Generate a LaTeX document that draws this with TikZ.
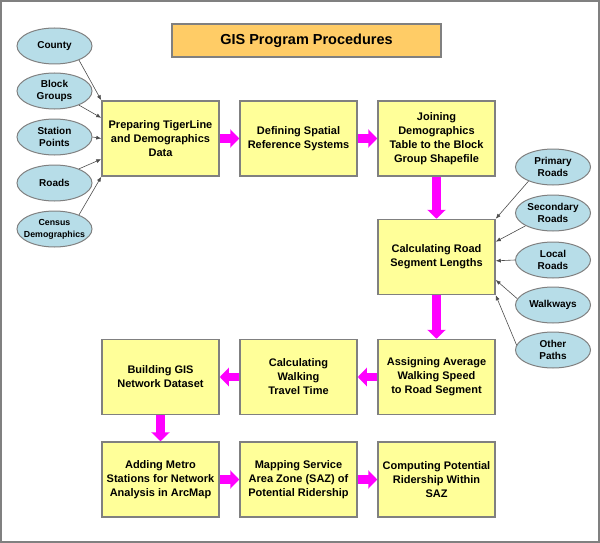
\documentclass[tikz,border=0pt]{standalone}
\usepackage{fontspec}
\setmainfont{Liberation Sans}
\usetikzlibrary{arrows.meta,calc,shapes.geometric}

\definecolor{boxyellow}{RGB}{255,255,153}
\definecolor{titleorange}{RGB}{255,204,102}
\definecolor{ovalblue}{RGB}{183,221,232}
\definecolor{edgegray}{RGB}{128,128,128}
\definecolor{flowpink}{RGB}{255,0,255}

\tikzset{
  procbox/.style={draw=edgegray, line width=1.5pt, fill=boxyellow,
    minimum width=117pt, minimum height=75pt, inner sep=0pt, align=center,
    font=\fontsize{11}{14}\selectfont\bfseries},
  oval/.style={ellipse, draw=edgegray, line width=1pt, fill=ovalblue,
    minimum width=75pt, minimum height=36pt, inner xsep=-12pt, inner ysep=0pt,
    align=center, font=\fontsize{10}{12.5}\selectfont\bfseries},
  flow/.style={draw=flowpink, line width=8.5pt, -{Triangle[length=9pt,width=18pt]}},
  feed/.style={draw=black!70, line width=0.6pt, -{Latex[length=5pt,width=4pt]}},
}

\begin{document}
\begin{tikzpicture}[x=1pt,y=-1pt]
\useasboundingbox (0,0) rectangle (600,543);
\draw[edgegray, line width=2pt] (1,1) rectangle (598.5,541.5);

\node[draw=edgegray, line width=1.2pt, fill=titleorange, minimum width=269pt,
  minimum height=33pt, font=\fontsize{14.5}{17}\selectfont\bfseries]
  (title) at (306.5,40.5) {GIS Program Procedures};

% procedure boxes
\node[procbox] (prep) at (160.5,138.5) {Preparing TigerLine\\and Demographics\\Data};
\node[procbox] (spatial) at (298.5,138.5) {Defining Spatial\\Reference Systems};
\node[procbox] (joining) at (436.5,138.5) {Joining\\Demographics\\Table to the Block\\Group Shapefile};
\node[procbox] (seglen) at (436.5,257) {Calculating Road\\Segment Lengths};
\node[procbox] (speed) at (436.5,377) {Assigning Average\\Walking Speed\\to Road Segment};
\node[procbox] (traveltime) at (298.5,377) {Calculating\\Walking\\Travel Time};
\node[procbox] (network) at (160.5,377) {Building GIS\\Network Dataset};
\node[procbox] (metro) at (160.5,479.5) {Adding Metro\\Stations for Network\\Analysis in ArcMap};
\node[procbox] (saz) at (298.5,479.5) {Mapping Service\\Area Zone (SAZ) of\\Potential Ridership};
\node[procbox] (ridership) at (436.5,479.5) {Computing Potential\\Ridership Within\\SAZ};

% input data
\node[oval] (county) at (54.5,46) {County};
\node[oval] (blockgrp) at (54.5,91) {Block\\Groups};
\node[oval] (station) at (54.5,137) {Station\\Points};
\node[oval] (roads) at (54.5,183) {Roads};
\node[oval, font=\fontsize{8.8}{12}\selectfont\bfseries] (census) at (54.5,229) {Census\\Demographics};

\node[oval] (primary) at (553,167) {Primary\\Roads};
\node[oval] (secondary) at (553,213) {Secondary\\Roads};
\node[oval] (local) at (553,260) {Local\\Roads};
\node[oval] (walkways) at (553,305) {Walkways};
\node[oval] (otherpaths) at (553,350) {Other\\Paths};

\draw[feed] (county.-30) -- (prep.north west);
\draw[feed] (blockgrp.-30) -- ($(prep.north west)!0.23!(prep.south west)$);
\draw[feed] (station.east) -- (prep.west);
\draw[feed] (roads.30) -- ($(prep.north west)!0.77!(prep.south west)$);
\draw[feed] (census.30) -- (prep.south west);

\draw[feed] (primary.210) -- (seglen.north east);
\draw[feed] (secondary.205) -- ($(seglen.north east)!0.3!(seglen.south east)$);
\draw[feed] (local.west) -- ($(seglen.north east)!0.55!(seglen.south east)$);
\draw[feed] (walkways.170) -- ($(seglen.north east)!0.8!(seglen.south east)$);
\draw[feed] (otherpaths.172) -- (seglen.south east);

% procedure order
\draw[flow] (prep) -- (spatial);
\draw[flow] (spatial) -- (joining);
\draw[flow] (joining) -- (seglen);
\draw[flow] (seglen) -- (speed);
\draw[flow] (speed) -- (traveltime);
\draw[flow] (traveltime) -- (network);
\draw[flow] (network) -- (metro);
\draw[flow] (metro) -- (saz);
\draw[flow] (saz) -- (ridership);

\end{tikzpicture}
\end{document}
